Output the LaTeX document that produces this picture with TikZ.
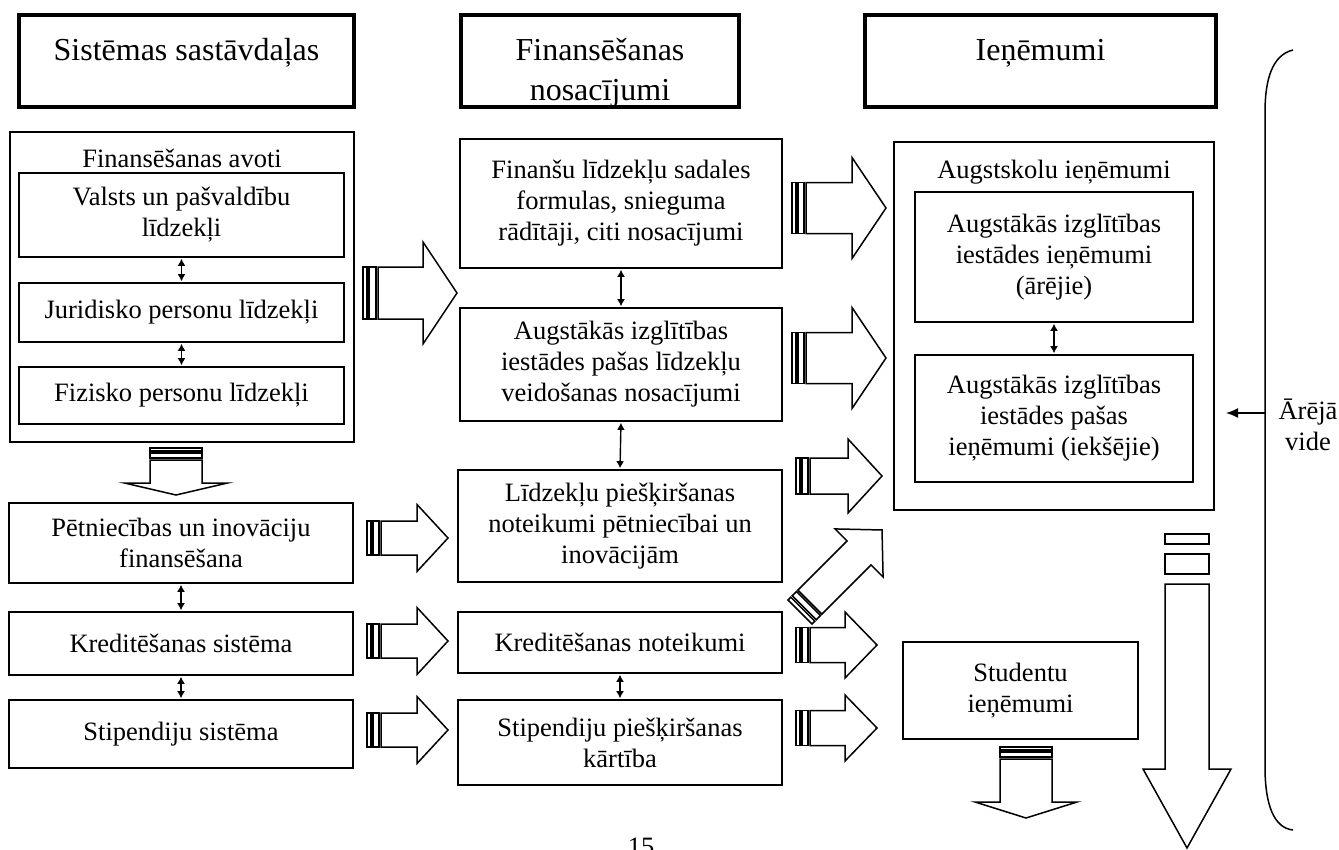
\documentclass[tikz,border=0pt]{standalone}
\usepackage{fontspec}
\setmainfont{Liberation Serif}
\usetikzlibrary{arrows.meta}
\newcommand{\sarrow}[9]{%
\begin{scope}[shift={#1},rotate=#2]
\draw[blk] (0,-#4) rectangle (#7,#4);
\draw[blk] ({#7+#8},-#4) rectangle ({#7+#8+#9},#4);
\draw[blk] ({#7+2*#8+#9},-#4) -- ({#3-#6},-#4) -- ({#3-#6},-#5) -- (#3,0) -- ({#3-#6},#5) -- ({#3-#6},#4) -- ({#7+2*#8+#9},#4) -- cycle;
\end{scope}}
\begin{document}
\begin{tikzpicture}[x=1pt,y=-1pt,
  box/.style={draw, line width=1.6pt, inner sep=0pt, align=center, font=\fontsize{26.5}{31}\selectfont},
  hdr/.style={draw, line width=4pt, inner sep=0pt},
  htxt/.style={anchor=base, inner sep=0pt, font=\fontsize{32}{40}\selectfont},
  btxt/.style={anchor=base, inner sep=0pt, font=\fontsize{26.5}{31}\selectfont},
  blk/.style={draw, line width=1.5pt, fill=white, line join=miter},
  dbl/.style={{Latex[length=7pt,width=8pt]}-{Latex[length=7pt,width=8pt]}, line width=1.4pt, shorten <=1pt, shorten >=1pt}]
\useasboundingbox (0,0) rectangle (1339,849);
\clip (0,0) rectangle (1339,849);
% headers
\node[hdr, minimum width=335pt, minimum height=92pt] (hl) at (186.5,61) {};
\node[htxt] (hlt) at (186.5,60) {Sistēmas sastāvdaļas};
\node[hdr, minimum width=278pt, minimum height=92pt] (hm) at (600,61) {};
\node[htxt] (hmt1) at (600,60) {Finansēšanas};
\node[htxt] (hmt2) at (600,100) {nosacījumi};
\node[hdr, minimum width=351pt, minimum height=92pt] (hr) at (1040.5,61) {};
\node[htxt] (hrt) at (1040.5,60) {Ieņēmumi};
% left column
\node[box, minimum width=344pt, minimum height=310pt] (fa) at (182,287) {};
\node[btxt] (fat) at (182,167) {Finansēšanas avoti};
\node[box, minimum width=325pt, minimum height=84pt] (v) at (181.5,215) {Valsts un pašvaldību\\līdzekļi};
\node[box, minimum width=325pt, minimum height=59pt] (j) at (181.5,312.5) {Juridisko personu līdzekļi};
\node[box, minimum width=325pt, minimum height=57pt] (f) at (181.5,395.5) {Fizisko personu līdzekļi};
\node[box, minimum width=344pt, minimum height=80pt] (p) at (181,543) {Pētniecības un inovāciju\\finansēšana};
\node[box, minimum width=344pt, minimum height=63pt] (k) at (181,643.5) {Kreditēšanas sistēma};
\node[box, minimum width=344pt, minimum height=68pt] (s) at (181,734) {Stipendiju sistēma};
% middle column
\node[box, minimum width=322pt, minimum height=129pt] (m1) at (621,203.5) {Finanšu līdzekļu sadales\\formulas, snieguma\\rādītāji, citi nosacījumi};
\node[box, minimum width=322pt, minimum height=113pt] (m2) at (621,364.5) {Augstākās izglītības\\iestādes pašas līdzekļu\\veidošanas nosacījumi};
\node[box, minimum width=324pt, minimum height=112pt] (m3) at (620,526) {Līdzekļu piešķiršanas\\noteikumi pētniecībai un\\inovācijām};
\node[box, minimum width=324pt, minimum height=61pt] (m4) at (620,642.5) {Kreditēšanas noteikumi};
\node[box, minimum width=324pt, minimum height=85pt] (m5) at (620,742.5) {Stipendiju piešķiršanas\\kārtība};
% right column
\node[box, minimum width=320pt, minimum height=368pt] (au) at (1054,326) {};
\node[btxt] (aut) at (1054,178) {Augstskolu ieņēmumi};
\node[box, minimum width=278pt, minimum height=130pt] (a1) at (1054,257) {Augstākās izglītības\\iestādes ieņēmumi\\(ārējie)};
\node[box, minimum width=278pt, minimum height=127pt] (a2) at (1054,418.5) {Augstākās izglītības\\iestādes pašas\\ieņēmumi (iekšējie)};
\node[box, minimum width=235pt, minimum height=97pt] (st) at (1020.5,690.5) {Studentu\\ieņēmumi};
% external environment
\node[btxt, anchor=center, align=center] (ev) at (1308,425) {Ārējā\\vide};
\draw[line width=1.5pt] (1293,50) .. controls (1272,55) and (1265,80) .. (1265,112) -- (1265,767) .. controls (1265,805) and (1274,828) .. (1293,830);
\coordinate (br) at (1265,413);
\coordinate (brt) at (1226,413);
\draw[line width=1.5pt, -{Latex[length=12pt,width=10pt]}] (br) -- (brt);
% double arrows
\draw[dbl] (v.south) -- (j.north);
\draw[dbl] (j.south) -- (f.north);
\draw[dbl] (p.south) -- (k.north);
\draw[dbl] (k.south) -- (s.north);
\draw[dbl] (m1.south) -- (m2.north);
\draw[dbl] (m2.south) -- (m3.north);
\draw[dbl] (m4.south) -- (m5.north);
\draw[dbl] (a1.south) -- (a2.north);
% block arrows
\sarrow{(363,293)}{0}{94}{26}{51}{34}{4}{2}{7}
\sarrow{(792,208)}{0}{94}{25.5}{50.5}{34}{4}{2}{6}
\sarrow{(792,358)}{0}{94}{25.5}{50.5}{34}{4}{2}{6}
\sarrow{(796,476)}{0}{86}{18}{37}{34}{4}{2}{6}
\sarrow{(800,612)}{45}{116}{17}{34}{32.5}{4}{2}{6}
\sarrow{(796,645)}{0}{81}{17.5}{33}{32}{4}{2}{6}
\sarrow{(796,728)}{0}{81}{17.5}{33}{32}{4}{2}{6}
\sarrow{(367,538)}{0}{81}{17}{33.5}{31}{4}{2}{6}
\sarrow{(367,641)}{0}{81}{17}{33.5}{31}{4}{2}{6}
\sarrow{(367,730)}{0}{81}{17}{33.5}{31}{4}{2}{6}
\sarrow{(176,448)}{-90}{47}{26}{51.5}{12}{3}{2}{5}
\sarrow{(1026,747)}{-90}{71}{26}{51}{16}{3}{2}{5}
\sarrow{(1187,534)}{-90}{314}{22}{44}{79}{10}{10}{20}
% page number
\node[btxt] (pg) at (641,855) {15};
\end{tikzpicture}
\end{document}
